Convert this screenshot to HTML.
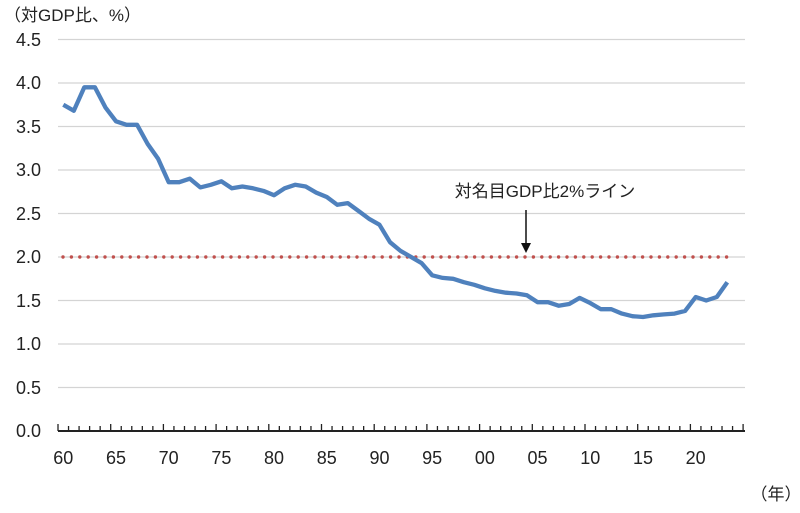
<!DOCTYPE html>
<html><head><meta charset="utf-8"><style>
body{margin:0;background:#fff;}
svg text{font-family:"Liberation Sans","Noto Sans CJK JP",sans-serif;fill:#222;}
</style></head><body>
<svg id="s" width="800" height="508" viewBox="0 0 800 508" xmlns="http://www.w3.org/2000/svg">
<g stroke="#d4d4d4" stroke-width="1.2">
<line x1="58" x2="745" y1="39.5" y2="39.5"/><line x1="58" x2="745" y1="83" y2="83"/>
<line x1="58" x2="745" y1="126.5" y2="126.5"/><line x1="58" x2="745" y1="170" y2="170"/>
<line x1="58" x2="745" y1="213.5" y2="213.5"/><line x1="58" x2="745" y1="257" y2="257"/>
<line x1="58" x2="745" y1="300.5" y2="300.5"/><line x1="58" x2="745" y1="344" y2="344"/>
<line x1="58" x2="745" y1="387.5" y2="387.5"/>
</g>
<g font-size="18" text-anchor="end">
<text x="41" y="46">4.5</text><text x="41" y="89">4.0</text><text x="41" y="133">3.5</text>
<text x="41" y="176">3.0</text><text x="41" y="220">2.5</text><text x="41" y="263">2.0</text>
<text x="41" y="307">1.5</text><text x="41" y="350">1.0</text><text x="41" y="394">0.5</text>
<text x="41" y="437">0.0</text>
</g>
<text x="4" y="21" font-size="17">（対GDP比、%）</text>
<line x1="58" x2="745" y1="431" y2="431" stroke="#222" stroke-width="2"/>
<g id="ticks" stroke="#222" stroke-width="1.3"></g>
<g font-size="18" text-anchor="middle" id="xl"></g>
<text x="776" y="500" font-size="17" text-anchor="middle">（年）</text>
<line x1="63" x2="729" y1="257" y2="257" stroke="#c0504d" stroke-width="3.4" stroke-dasharray="0 8.4" stroke-linecap="round"/>
<polyline id="pl" fill="none" stroke="#4f81bd" stroke-width="4.3" stroke-linejoin="round"/>
<text x="545" y="197" font-size="17" text-anchor="middle">対名目GDP比2%ライン</text>
<line x1="526" x2="526" y1="210" y2="244" stroke="#111" stroke-width="1.5"/>
<polygon points="521,243 531,243 526,253" fill="#111"/>
</svg>
<script>
var d=[3.75,3.68,3.95,3.95,3.72,3.56,3.52,3.52,3.30,3.13,2.86,2.86,2.90,2.80,2.83,2.87,2.79,2.81,2.79,2.76,2.71,2.79,2.83,2.81,2.74,2.69,2.60,2.62,2.53,2.44,2.37,2.17,2.07,2.00,1.93,1.79,1.76,1.75,1.71,1.68,1.64,1.61,1.59,1.58,1.56,1.48,1.48,1.44,1.46,1.53,1.47,1.40,1.40,1.35,1.32,1.31,1.33,1.34,1.35,1.38,1.54,1.50,1.54,1.71];
var u=10.54,p=[];
for(var i=0;i<d.length;i++)p.push((58+(i+0.5)*u).toFixed(1)+","+(431-d[i]*87).toFixed(1));
document.getElementById("pl").setAttribute("points",p.join(" "));
var ns="http://www.w3.org/2000/svg",t=document.getElementById("ticks"),xl=document.getElementById("xl");
for(var k=0;k<=65;k++){var x=58+k*u,l=document.createElementNS(ns,"line");l.setAttribute("x1",x);l.setAttribute("x2",x);l.setAttribute("y1",k%5==0?424:426);l.setAttribute("y2",431);t.appendChild(l);}
var labs=["60","65","70","75","80","85","90","95","00","05","10","15","20"];
for(var j=0;j<labs.length;j++){var tx=document.createElementNS(ns,"text");tx.setAttribute("x",58+(j*5+0.5)*u);tx.setAttribute("y",464);tx.textContent=labs[j];xl.appendChild(tx);}
</script>
</body></html>
